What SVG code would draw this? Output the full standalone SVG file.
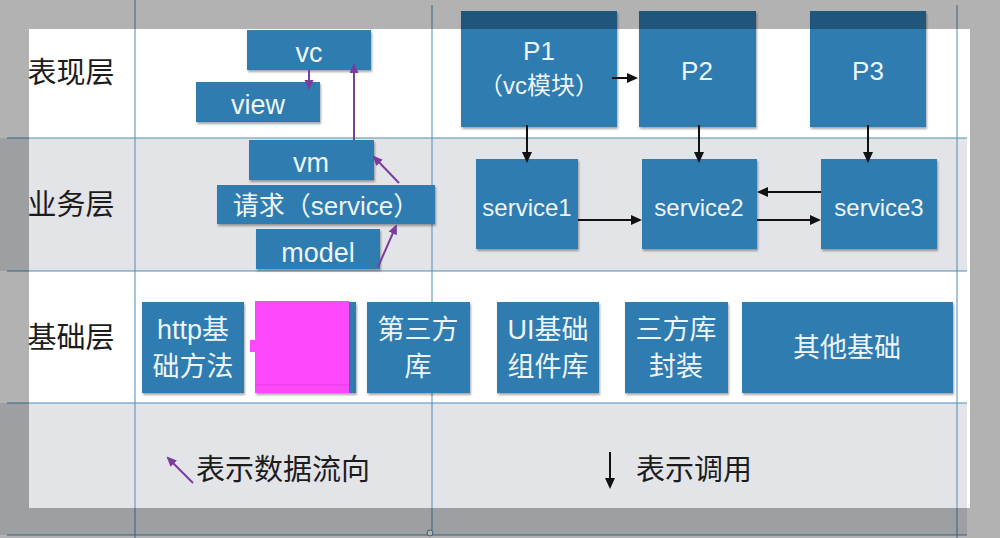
<svg xmlns="http://www.w3.org/2000/svg" width="1000" height="538" viewBox="0 0 1000 538">
<defs>
<style>
.bg{fill:#ffffff}
.band{fill:#e3e4e8}
.grid{stroke:#4f8db3;stroke-width:1;fill:none}
.box{fill:#2f7cb0;filter:url(#sh)}
.bt{fill:#eef5fa;font-family:"Liberation Sans","Noto Sans CJK SC",sans-serif;text-anchor:middle}
.lbl{fill:#1c1c1c;font-family:"Liberation Sans","Noto Sans CJK SC",sans-serif;font-size:29px;text-anchor:middle}
.pa{stroke:#7a3d9e;stroke-width:2;fill:none;marker-end:url(#ph)}
.ba{stroke:#111;stroke-width:2;fill:none;marker-end:url(#bh)}
</style>
<filter id="sh" x="-10%" y="-10%" width="125%" height="130%">
<feDropShadow dx="1" dy="2" stdDeviation="1.2" flood-color="#000" flood-opacity="0.35"/>
</filter>
<marker id="bh" markerUnits="userSpaceOnUse" markerWidth="12" markerHeight="12" refX="9" refY="5" orient="auto">
<path d="M0,0 L11,5 L0,10 Z" fill="#111"/>
</marker>
<marker id="ph" markerUnits="userSpaceOnUse" markerWidth="12" markerHeight="12" refX="8" refY="4.5" orient="auto">
<path d="M0,0 L10,4.5 L0,9 Z" fill="#7a3d9e"/>
</marker>
</defs>

<g id="background">
<rect class="bg" x="0" y="0" width="1000" height="538"/>
<rect class="band" x="0" y="138" width="967" height="133"/>
<rect class="band" x="0" y="403" width="967" height="132"/>
<line class="grid" x1="7" y1="138" x2="967" y2="138"/>
<line class="grid" x1="7" y1="271" x2="967" y2="271"/>
<line class="grid" x1="7" y1="403" x2="967" y2="403"/>
<line class="grid" x1="7" y1="535" x2="967" y2="535"/>
<line class="grid" x1="135" y1="0" x2="135" y2="538"/>
<line class="grid" x1="432" y1="5" x2="432" y2="530"/>
<line class="grid" x1="957" y1="5" x2="957" y2="538"/>
<circle cx="430" cy="533" r="3" fill="#fff" stroke="#4f8db3" stroke-width="1"/>
</g>

<g id="layer-labels">
<text class="lbl" x="71" y="83">表现层</text>
<text class="lbl" x="71" y="215">业务层</text>
<text class="lbl" x="71" y="348">基础层</text>
</g>

<g id="node-vc"><rect class="box" x="247" y="30" width="124" height="40"/><text class="bt" x="309" y="62" font-size="27">vc</text></g>
<g id="node-view"><rect class="box" x="196" y="82" width="124" height="40"/><text class="bt" x="258" y="114" font-size="27">view</text></g>
<g id="node-vm"><rect class="box" x="249" y="140" width="125" height="40"/><text class="bt" x="311" y="172" font-size="27">vm</text></g>
<g id="node-request"><rect class="box" x="217" y="185" width="218" height="39"/><text class="bt" x="326" y="215" font-size="26">请求（service）</text></g>
<g id="node-model"><rect class="box" x="256" y="229" width="124" height="40"/><text class="bt" x="318" y="262" font-size="27">model</text></g>

<g id="node-p1"><rect class="box" x="461" y="11" width="156" height="116"/><text class="bt" x="539" y="60" font-size="26">P1</text><text class="bt" x="539" y="94" font-size="24">（vc模块）</text></g>
<g id="node-p2"><rect class="box" x="639" y="11" width="117" height="116"/><text class="bt" x="697" y="80" font-size="26">P2</text></g>
<g id="node-p3"><rect class="box" x="810" y="11" width="116" height="116"/><text class="bt" x="868" y="80" font-size="26">P3</text></g>

<g id="node-service1"><rect class="box" x="476" y="159" width="102" height="90"/><text class="bt" x="527" y="216" font-size="24">service1</text></g>
<g id="node-service2"><rect class="box" x="642" y="159" width="115" height="90"/><text class="bt" x="699" y="216" font-size="24">service2</text></g>
<g id="node-service3"><rect class="box" x="821" y="159" width="116" height="90"/><text class="bt" x="879" y="216" font-size="24">service3</text></g>

<g id="node-http"><rect class="box" x="142" y="302" width="102" height="91"/><text class="bt" x="193" y="339" font-size="27">http基</text><text class="bt" x="193" y="376" font-size="27">础方法</text></g>
<g id="node-redacted"><rect class="box" x="255" y="302" width="101" height="91"/><rect x="255" y="301" width="94" height="92" fill="#fd48fb"/><rect x="250" y="340" width="6" height="12" fill="#fd48fb"/><line x1="255" y1="385" x2="349" y2="385" stroke="#e03ede" stroke-width="1"/></g>
<g id="node-thirdparty"><rect class="box" x="367" y="302" width="103" height="91"/><text class="bt" x="418" y="339" font-size="27">第三方</text><text class="bt" x="418" y="376" font-size="27">库</text></g>
<g id="node-ui"><rect class="box" x="497" y="302" width="102" height="91"/><text class="bt" x="548" y="339" font-size="27">UI基础</text><text class="bt" x="548" y="376" font-size="27">组件库</text></g>
<g id="node-wrap"><rect class="box" x="625" y="302" width="103" height="91"/><text class="bt" x="676" y="339" font-size="27">三方库</text><text class="bt" x="676" y="376" font-size="27">封装</text></g>
<g id="node-other"><rect class="box" x="742" y="302" width="211" height="91"/><text class="bt" x="847" y="357" font-size="27">其他基础</text></g>

<g id="legend">
<text class="lbl" x="283" y="480" font-size="29">表示数据流向</text>
<text class="lbl" x="694" y="480" font-size="29">表示调用</text>
</g>

<g id="connectors">
<line class="pa" x1="309" y1="70" x2="309" y2="88"/>
<line class="pa" x1="354" y1="140" x2="354" y2="65"/>
<line class="pa" x1="399" y1="183" x2="374" y2="157"/>
<line class="pa" x1="378" y1="267" x2="396" y2="226"/>
<line class="pa" x1="193" y1="483" x2="168" y2="458"/>
<line class="ba" x1="612" y1="78" x2="636" y2="78"/>
<line class="ba" x1="527" y1="125" x2="527" y2="161"/>
<line class="ba" x1="699" y1="125" x2="699" y2="161"/>
<line class="ba" x1="868" y1="125" x2="868" y2="161"/>
<line class="ba" x1="578" y1="220" x2="640" y2="220"/>
<line class="ba" x1="757" y1="220" x2="819" y2="220"/>
<line class="ba" x1="821" y1="192" x2="759" y2="192"/>
<line class="ba" x1="610" y1="452" x2="610" y2="487"/>
</g>

<path id="overlay" d="M0,0H1000V538H0Z M29,29V508H970V29Z" fill="#000" fill-opacity="0.3" fill-rule="evenodd"/>
</svg>
